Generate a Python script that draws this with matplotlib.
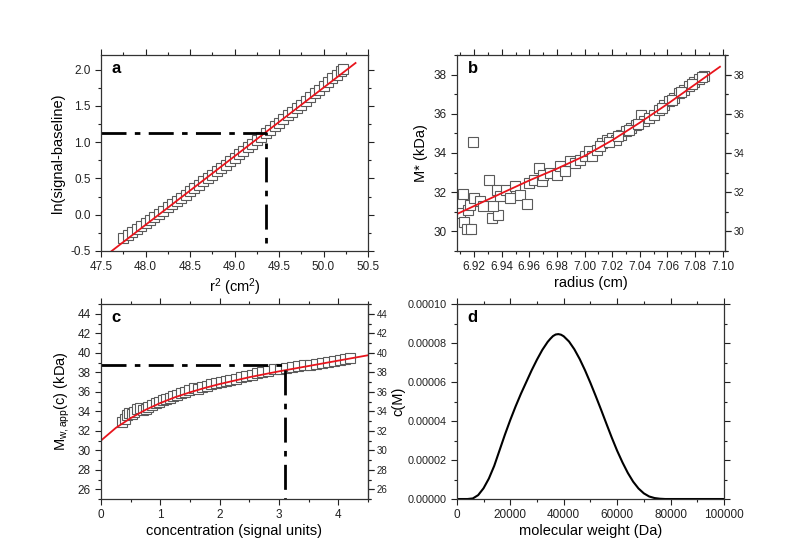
import matplotlib
matplotlib.use("Agg")
import matplotlib.pyplot as plt
from matplotlib.ticker import MultipleLocator, FormatStrFormatter

plt.rcParams['font.family'] = ['Liberation Sans', 'DejaVu Sans']
plt.rcParams['mathtext.fontset'] = 'custom'
plt.rcParams['mathtext.rm'] = 'Liberation Sans'
plt.rcParams['mathtext.it'] = 'Liberation Sans:italic'
plt.rcParams['mathtext.default'] = 'regular'

# Panel a: ln(signal-baseline) vs r^2
r2 = [47.75, 47.80, 47.85, 47.90, 47.95, 48.00, 48.05, 48.10, 48.15, 48.20,
      48.25, 48.30, 48.35, 48.40, 48.45, 48.50, 48.55, 48.60, 48.65, 48.70,
      48.75, 48.80, 48.85, 48.90, 48.95, 49.00, 49.05, 49.10, 49.15, 49.20,
      49.25, 49.30, 49.35, 49.40, 49.45, 49.50, 49.55, 49.60, 49.65, 49.70,
      49.75, 49.80, 49.85, 49.90, 49.95, 50.00, 50.05, 50.10, 50.15, 50.20, 50.22]
lnsig = [-0.327, -0.285, -0.243, -0.201, -0.159, -0.116, -0.073, -0.030, 0.013, 0.057,
         0.101, 0.145, 0.189, 0.233, 0.278, 0.323, 0.368, 0.413, 0.459, 0.505,
         0.551, 0.597, 0.643, 0.690, 0.737, 0.784, 0.832, 0.879, 0.927, 0.975,
         1.023, 1.072, 1.120, 1.169, 1.219, 1.268, 1.318, 1.367, 1.417, 1.468,
         1.518, 1.569, 1.620, 1.671, 1.722, 1.774, 1.826, 1.878, 1.930, 1.983, 2.004]
fit_a_x = [47.62, 50.36]
fit_a_y = [-0.50, 2.09]
guide_a_x = [47.5, 49.35, 49.35]
guide_a_y = [1.13, 1.13, -0.5]

# Panel b: M* vs radius
radius = [6.9098, 6.9123, 6.9130, 6.9147, 6.9159, 6.9178, 6.9170, 6.9190, 6.9200, 6.9244,
          6.9268, 6.9311, 6.9328, 6.9365, 6.9370, 6.9340, 6.9390, 6.9428, 6.9461, 6.9498,
          6.9534, 6.9583, 6.9595, 6.9631, 6.9667, 6.9690, 6.9700, 6.9750, 6.9800, 6.9825,
          6.9860, 6.9897, 6.9934, 6.9970, 7.0006, 7.0030, 7.0055, 7.0090, 7.0127, 7.0164,
          7.0200, 7.0224, 7.0260, 7.0297, 7.0333, 7.0370, 7.0406, 7.0430, 7.0466, 7.0500,
          7.0540, 7.0575, 7.0610, 7.0648, 7.0684, 7.0720, 7.0757, 7.0793, 7.0830, 7.0867,
          7.0110, 7.0180, 7.0240, 7.0320, 7.0390, 7.0560, 7.0630, 7.0700, 7.0775, 7.0850]
mstar = [30.94, 31.92, 30.46, 30.12, 31.11, 30.14, 31.36, 34.56, 31.70, 31.53,
         31.28, 32.60, 30.68, 32.13, 30.82, 31.28, 31.79, 32.13, 31.70, 32.30,
         31.87, 31.40, 32.47, 32.64, 33.23, 32.55, 32.90, 32.98, 32.90, 33.35,
         33.06, 33.57, 33.49, 33.66, 33.83, 34.09, 33.83, 34.17, 34.51, 34.68,
         34.77, 34.68, 34.94, 35.11, 35.28, 35.45, 35.96, 35.62, 35.79, 35.96,
         36.21, 36.47, 36.64, 36.81, 37.06, 37.23, 37.44, 37.63, 37.78, 37.91,
         34.35, 34.55, 34.85, 35.15, 35.50, 36.30, 36.72, 37.12, 37.52, 37.86]
fit_b_x = [6.908, 6.94, 6.96, 6.98, 7.00, 7.02, 7.04, 7.06, 7.08, 7.098]
fit_b_y = [30.90, 31.95, 32.60, 33.20, 33.85, 34.65, 35.55, 36.50, 37.50, 38.40]

# Panel c: Mw,app(c) vs concentration
conc = [0.36, 0.40, 0.44, 0.48, 0.52, 0.56, 0.60, 0.65, 0.70, 0.75,
        0.80, 0.86, 0.92, 0.98, 1.04, 1.10, 1.16, 1.22, 1.28, 1.35,
        1.42, 1.49, 1.56, 1.63, 1.70, 1.78, 1.86, 1.94, 2.02, 2.10,
        2.18, 2.27, 2.36, 2.45, 2.54, 2.63, 2.72, 2.82, 2.92, 3.02,
        3.12, 3.22, 3.32, 3.42, 3.52, 3.62, 3.72, 3.82, 3.92, 4.02, 4.12, 4.20]
mwapp = [32.9, 33.2, 33.6, 33.8, 33.7, 33.9, 34.2, 34.3, 34.1, 34.2,
         34.4, 34.6, 34.9, 35.0, 35.2, 35.3, 35.4, 35.6, 35.7, 35.9,
         36.0, 36.2, 36.4, 36.3, 36.5, 36.6, 36.8, 36.9, 37.0, 37.1,
         37.2, 37.3, 37.5, 37.6, 37.7, 37.9, 38.0, 38.1, 38.3, 38.3,
         38.4, 38.5, 38.6, 38.7, 38.8, 38.9, 39.0, 39.1, 39.2, 39.3, 39.4, 39.5]
fit_c_x = [0.0, 0.25, 0.5, 0.75, 1.0, 1.25, 1.5, 1.75, 2.0, 2.5, 3.0, 3.5, 4.0, 4.5]
fit_c_y = [31.0, 32.3, 33.3, 34.15, 34.85, 35.45, 35.95, 36.4, 36.8, 37.5, 38.1, 38.65, 39.2, 39.75]
guide_c_x = [0.0, 3.1, 3.1]
guide_c_y = [38.7, 38.7, 25.0]

# Panel d: c(M) distribution
mw = [0, 4000, 6000, 8000, 10000, 12000, 14000, 16000, 18000, 20000,
      22000, 24000, 26000, 28000, 30000, 32000, 34000, 35000, 36000, 37000,
      38000, 39000, 40000, 42000, 44000, 46000, 48000, 50000, 52000, 54000,
      56000, 58000, 60000, 62000, 64000, 66000, 68000, 70000, 72000, 74000,
      76000, 78000, 100000]
cm = [0, 0, 0.3, 2.0, 5.5, 10.5, 17.0, 25.0, 33.0, 40.5,
      47.5, 54.0, 60.0, 66.0, 71.5, 76.5, 80.6, 82.2, 83.6, 84.4,
      84.6, 84.3, 83.5, 80.8, 76.8, 71.8, 66.0, 59.6, 52.8, 45.8,
      38.6, 31.5, 24.8, 18.8, 13.4, 8.9, 5.4, 2.9, 1.3, 0.5,
      0.15, 0, 0]
cm = [v * 1e-6 for v in cm]

fig = plt.figure(figsize=(8, 5.59), dpi=100)
ax_a = fig.add_axes([0.12625, 0.551, 0.33375, 0.3506])
ax_b = fig.add_axes([0.571, 0.551, 0.335, 0.3506])
ax_c = fig.add_axes([0.12625, 0.1073, 0.33375, 0.3487])
ax_d = fig.add_axes([0.571, 0.1073, 0.334, 0.3487])


def style(ax, xmaj, xmin, ymaj, ymin, right_labels=False, ysize=8.5):
    ax.xaxis.set_major_locator(MultipleLocator(xmaj))
    ax.xaxis.set_minor_locator(MultipleLocator(xmin))
    ax.yaxis.set_major_locator(MultipleLocator(ymaj))
    ax.yaxis.set_minor_locator(MultipleLocator(ymin))
    ax.tick_params(which='both', direction='out', top=True, right=True,
                   labelsize=8.5, width=0.8, colors='#222222')
    ax.tick_params(axis='y', labelsize=ysize)
    ax.tick_params(which='major', length=4)
    ax.tick_params(which='minor', length=2)
    if right_labels:
        sec = ax.secondary_yaxis('right')
        sec.yaxis.set_major_locator(MultipleLocator(ymaj))
        sec.yaxis.set_minor_locator(MultipleLocator(ymin))
        sec.tick_params(which='both', direction='out', labelsize=7, width=0.8,
                        colors='#222222', pad=2.5)
        sec.tick_params(which='major', length=4)
        sec.tick_params(which='minor', length=2)
    for s in ax.spines.values():
        s.set_linewidth(0.9)
        s.set_color('#333333')


dash = (0, (9, 3, 2, 3))
sq = dict(marker='s', ms=6.5, mfc='white', mec='#5a5a5a', mew=0.8, ls='none')

# a
ax_a.plot(r2, lnsig, **sq)
ax_a.plot(fit_a_x, fit_a_y, color='#e8141c', lw=1.3)
ax_a.plot(guide_a_x, guide_a_y, color='black', lw=2, ls=dash)
ax_a.set_xlim(47.5, 50.5)
ax_a.set_ylim(-0.5, 2.2)
style(ax_a, 0.5, 0.25, 0.5, 0.25)
ax_a.yaxis.set_major_formatter(FormatStrFormatter('%.1f'))
ax_a.set_xlabel(r'r$^2$ (cm$^2$)', fontsize=10.5, labelpad=2)
ax_a.set_ylabel('ln(signal-baseline)', fontsize=10.5)
ax_a.text(0.04, 0.93, 'a', transform=ax_a.transAxes, fontsize=12, fontweight='bold', va='center')

# b
ax_b.plot(radius, mstar, **sq)
ax_b.plot(fit_b_x, fit_b_y, color='#e8141c', lw=1.3)
ax_b.set_xlim(6.9075, 7.1015)
ax_b.set_ylim(29, 39)
style(ax_b, 0.02, 0.01, 2, 1, right_labels=True)
ax_b.xaxis.set_major_formatter(FormatStrFormatter('%.2f'))
ax_b.set_xlabel('radius (cm)', fontsize=10.5, labelpad=2)
ax_b.set_ylabel('M* (kDa)', fontsize=10.5)
ax_b.text(0.04, 0.93, 'b', transform=ax_b.transAxes, fontsize=12, fontweight='bold', va='center')

# c
ax_c.plot(conc, mwapp, **sq)
ax_c.plot(fit_c_x, fit_c_y, color='#e8141c', lw=1.3)
ax_c.plot(guide_c_x, guide_c_y, color='black', lw=2, ls=dash)
ax_c.set_xlim(0, 4.5)
ax_c.set_ylim(25, 45)
style(ax_c, 1, 0.5, 2, 1, right_labels=True)
ax_c.set_xlabel('concentration (signal units)', fontsize=10.5, labelpad=2)
ax_c.set_ylabel(r'M$_{w,app}$(c) (kDa)', fontsize=10.5)
ax_c.text(0.04, 0.93, 'c', transform=ax_c.transAxes, fontsize=12, fontweight='bold', va='center')

# d
ax_d.plot(mw, cm, color='black', lw=1.5)
ax_d.set_xlim(0, 100000)
ax_d.set_ylim(0, 0.0001)
style(ax_d, 20000, 10000, 0.00002, 0.00001, ysize=7.8)
ax_d.yaxis.set_major_formatter(FormatStrFormatter('%.5f'))
ax_d.set_xlabel('molecular weight (Da)', fontsize=10.5, labelpad=2)
ax_d.set_ylabel('c(M)', fontsize=10.5, labelpad=1)
ax_d.text(0.04, 0.93, 'd', transform=ax_d.transAxes, fontsize=12, fontweight='bold', va='center')

fig.savefig('out.png', dpi=100)
